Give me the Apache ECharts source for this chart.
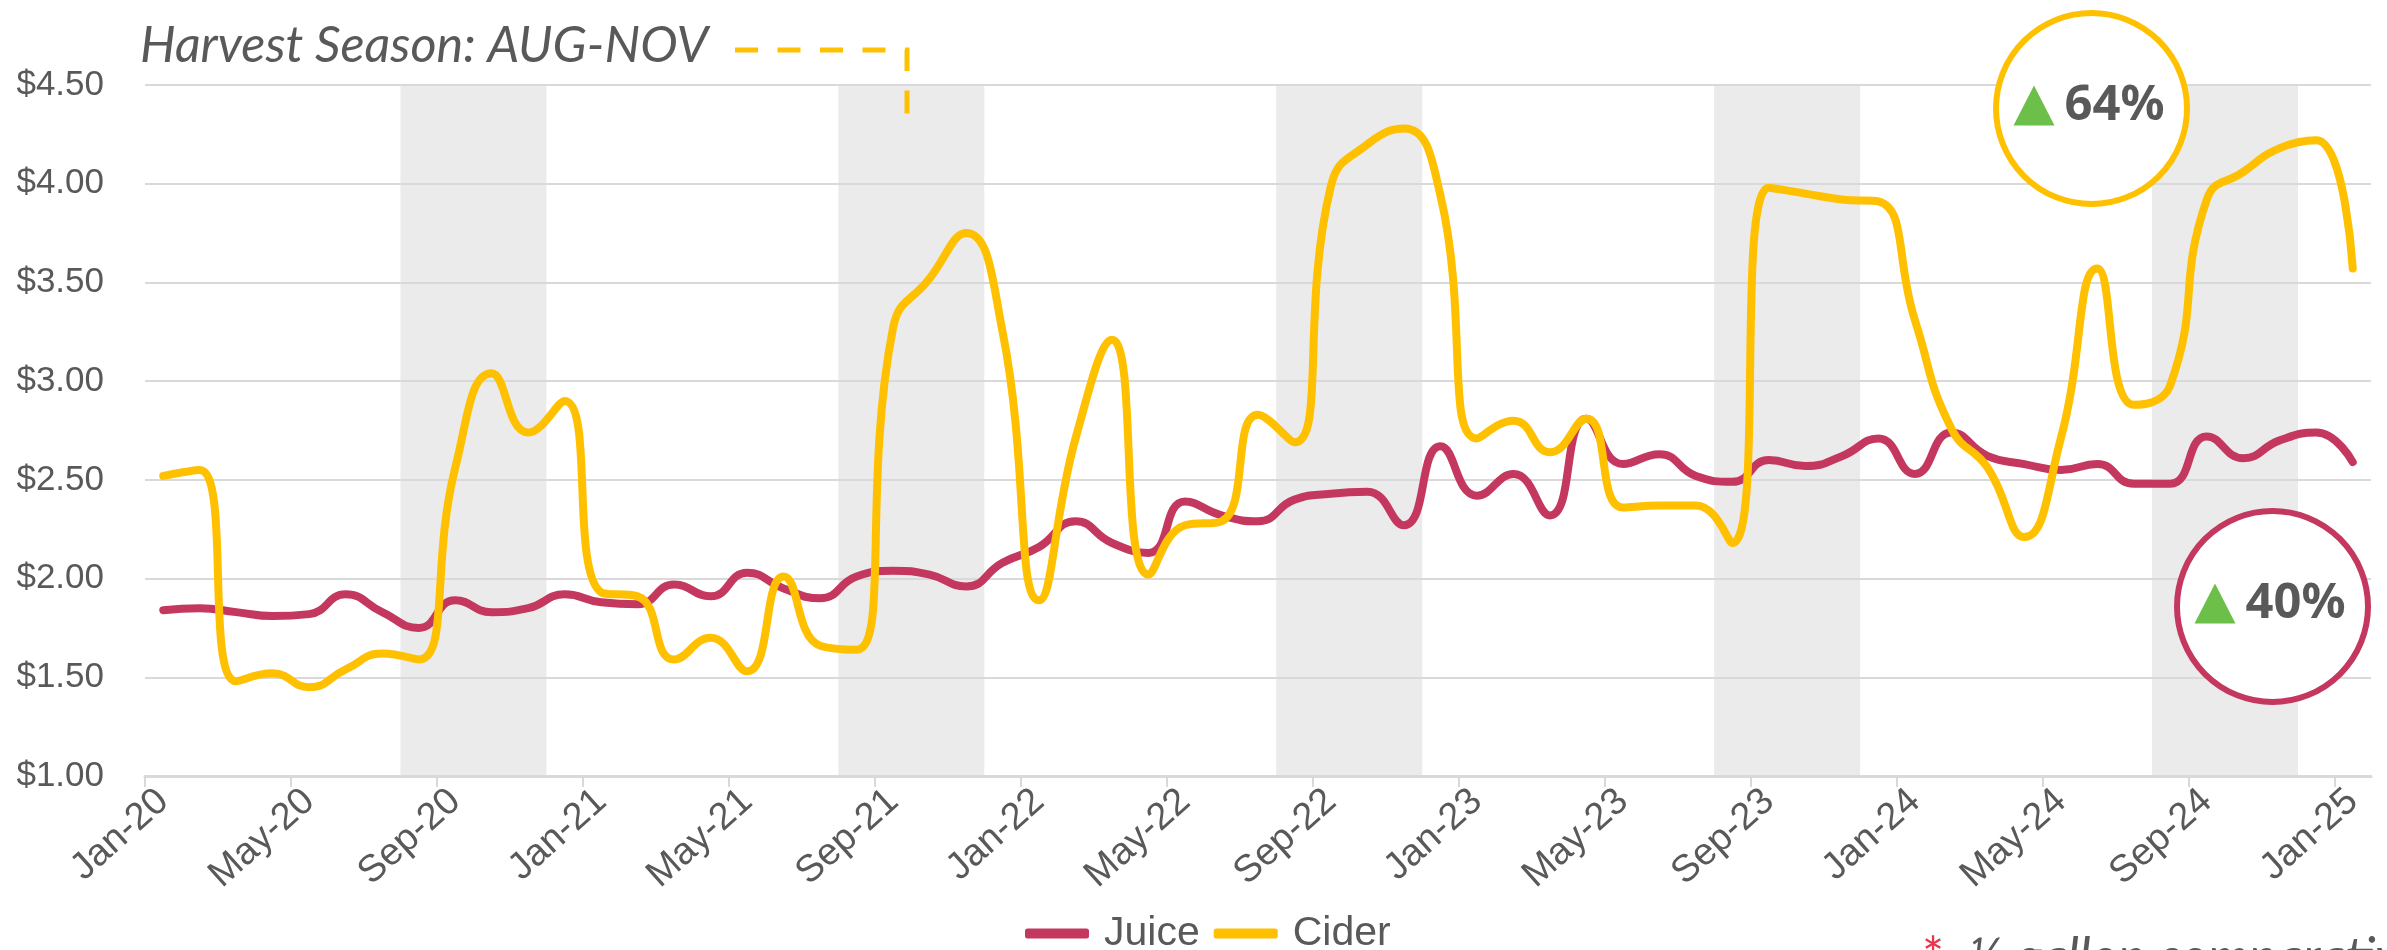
<!DOCTYPE html>
<html>
<head>
<meta charset="utf-8">
<title>Juice vs Cider prices</title>
<script src="https://cdn.jsdelivr.net/npm/echarts@6/dist/echarts.min.js"></script>
<style>
  html, body { margin: 0; padding: 0; background: #ffffff; }
  #chart { width: 2387px; height: 950px; }
</style>
</head>
<body>
<div id="chart"></div>
<script>
// Monthly categories, Jan-20 .. Jan-25
const months = [
  'Jan-20','Feb-20','Mar-20','Apr-20','May-20','Jun-20','Jul-20','Aug-20','Sep-20','Oct-20','Nov-20','Dec-20',
  'Jan-21','Feb-21','Mar-21','Apr-21','May-21','Jun-21','Jul-21','Aug-21','Sep-21','Oct-21','Nov-21','Dec-21',
  'Jan-22','Feb-22','Mar-22','Apr-22','May-22','Jun-22','Jul-22','Aug-22','Sep-22','Oct-22','Nov-22','Dec-22',
  'Jan-23','Feb-23','Mar-23','Apr-23','May-23','Jun-23','Jul-23','Aug-23','Sep-23','Oct-23','Nov-23','Dec-23',
  'Jan-24','Feb-24','Mar-24','Apr-24','May-24','Jun-24','Jul-24','Aug-24','Sep-24','Oct-24','Nov-24','Dec-24',
  'Jan-25'
];

// Average price per half gallon ($)
const juice = [
  1.84, 1.85, 1.83, 1.81, 1.82, 1.92, 1.83, 1.75, 1.89, 1.83, 1.85, 1.92,
  1.88, 1.87, 1.97, 1.91, 2.03, 1.95, 1.90, 2.01, 2.04, 2.02, 1.96, 2.08,
  2.16, 2.29, 2.18, 2.13, 2.39, 2.32, 2.29, 2.40, 2.43, 2.44, 2.27, 2.67,
  2.42, 2.53, 2.32, 2.81, 2.58, 2.63, 2.52, 2.49, 2.60, 2.57, 2.62, 2.71,
  2.53, 2.74, 2.62, 2.58, 2.55, 2.58, 2.48, 2.48, 2.72, 2.61, 2.70, 2.74,
  2.59
];
const cider = [
  2.52, 2.55, 1.48, 1.52, 1.45, 1.54, 1.62, 1.59, 2.56, 3.04, 2.74, 2.90,
  1.93, 1.91, 1.59, 1.70, 1.53, 2.01, 1.66, 1.64, 3.27, 3.52, 3.75, 3.25,
  1.89, 2.71, 3.21, 2.02, 2.27, 2.29, 2.83, 2.69, 3.99, 4.20, 4.28, 3.94,
  2.71, 2.80, 2.64, 2.81, 2.36, 2.37, 2.37, 2.18, 3.98, 3.95, 3.92, 3.91,
  3.31, 2.76, 2.56, 2.21, 2.71, 3.57, 2.88, 2.98, 3.92, 4.06, 4.18, 4.22,
  3.57
];

// Harvest season (Aug-Nov) each year
const harvestSeasons = [
  ['Aug-20', 'Nov-20'], ['Aug-21', 'Nov-21'], ['Aug-22', 'Nov-22'],
  ['Aug-23', 'Nov-23'], ['Aug-24', 'Nov-24']
];

// Change over the period, shown in the callouts
const changeLabels = { cider: '64%', juice: '40%' };

const FONT = "'Liberation Sans', Arial, sans-serif";
const GREY = '#595959';
const PINK = '#C4375F';
const GOLD = '#FFC000';
const GREEN = '#6CC04A';

// every fourth month carries a tick and a label
const labelledIdx = months.map((m, i) => i).filter(i => i % 4 === 0);

// font size that makes a string span a given width
function fittedSize(text, family, style, target) {
  const ctx = document.createElement('canvas').getContext('2d');
  ctx.font = style + ' 100px ' + family;
  return 100 * target / ctx.measureText(text).width;
}

const chart = echarts.init(document.getElementById('chart'), null, { renderer: 'canvas' });

chart.setOption({
  animation: false,
  backgroundColor: '#ffffff',
  grid: { left: 145, right: 16, top: 85, bottom: 174, containLabel: false, outerBoundsMode: 'none' },
  legend: {
    data: ['Juice', 'Cider'],
    left: 1020, top: 908,
    icon: 'roundRect', itemWidth: 64, itemHeight: 10, itemGap: 14,
    textStyle: { fontSize: 41, color: GREY, fontFamily: FONT, padding: [0, 0, 0, 10] },
    selectedMode: false
  },
  xAxis: [
    {
      type: 'category', data: months, boundaryGap: true,
      axisLine: { show: false }, axisTick: { show: false }, splitLine: { show: false },
      axisLabel: { interval: 3, rotate: 42, margin: 20, fontSize: 38, color: GREY, fontFamily: FONT }
    },
    {
      // month scale for season shading and tick marks
      type: 'value', min: 0, max: months.length, position: 'bottom', z: 1.5,
      axisLine: { show: true, onZero: false, lineStyle: { color: '#D9D9D9', width: 3 } },
      axisTick: { show: true, customValues: labelledIdx, length: 11, lineStyle: { color: '#D9D9D9', width: 2 } },
      axisLabel: { show: false }, splitLine: { show: false }
    }
  ],
  yAxis: {
    type: 'value', min: 1, max: 4.5, interval: 0.5, z: 1.5,
    axisLine: { show: false }, axisTick: { show: false },
    splitLine: { show: true, lineStyle: { color: '#D9D9D9', width: 2 } },
    axisLabel: { margin: 41, fontSize: 35, color: GREY, fontFamily: FONT, formatter: v => '$' + v.toFixed(2) }
  },
  series: [
    {
      name: 'Harvest season', type: 'line', xAxisIndex: 1, data: [], silent: true,
      markArea: {
        silent: true, z: 1,
        itemStyle: { color: '#EBEBEB' },
        label: { show: false },
        data: harvestSeasons.map(([a, b]) => [{ xAxis: months.indexOf(a) }, { xAxis: months.indexOf(b) + 1 }])
      }
    },
    {
      name: 'Juice', type: 'line', data: juice, smooth: 0.5, symbol: 'none', z: 3,
      lineStyle: { color: PINK, width: 8, cap: 'round', join: 'round' }, itemStyle: { color: PINK },
      emphasis: { disabled: true }
    },
    {
      name: 'Cider', type: 'line', data: cider, smooth: 0.5, symbol: 'none', z: 4,
      lineStyle: { color: GOLD, width: 8, cap: 'round', join: 'round' }, itemStyle: { color: GOLD },
      emphasis: { disabled: true }
    }
  ]
});

// Annotations: season caption with leader, change callouts, footnote
const harvestTitle = 'Harvest Season: AUG-NOV';
const titleSize = fittedSize(harvestTitle, 'Lato', 'italic', 568);
const pctSize = fittedSize('64%', "'Noto Sans'", 'bold', 100);

function callout(cx, cy, color, text) {
  return [
    { type: 'circle', z: 20, shape: { cx: cx, cy: cy, r: 95.5 }, style: { fill: '#ffffff', stroke: color, lineWidth: 6 } },
    { type: 'polygon', z: 21, shape: { points: [[cx - 78, cy + 17], [cx - 37, cy + 17], [cx - 57.5, cy - 23]] }, style: { fill: GREEN } },
    { type: 'text', z: 21, style: { x: cx - 27, y: cy - 2, text: text, fill: GREY, font: 'bold ' + pctSize.toFixed(1) + "px 'Noto Sans', sans-serif", verticalAlign: 'middle', align: 'left' } }
  ];
}

chart.setOption({
  graphic: [
    { type: 'text', z: 20, style: { x: 140, y: 46, text: harvestTitle, fill: GREY, font: 'italic ' + titleSize.toFixed(1) + 'px Lato, sans-serif', verticalAlign: 'middle' } },
    { type: 'polyline', z: 20, shape: { points: [[735, 50], [907, 50], [907, 118]] }, style: { stroke: GOLD, lineWidth: 5, lineDash: [23, 19.5], fill: null } },
    ...callout(2091.5, 108.5, GOLD, changeLabels.cider),
    ...callout(2272.5, 606.5, PINK, changeLabels.juice),
    { type: 'text', z: 20, style: { x: 1922, y: 958, text: '{a|*}{b|  ½ gallon comparative}', verticalAlign: 'middle',
      rich: { a: { fill: '#E8344E', font: '52px Lato, sans-serif' }, b: { fill: GREY, font: 'italic 52px Lato, sans-serif' } } } }
  ]
});
</script>
</body>
</html>
